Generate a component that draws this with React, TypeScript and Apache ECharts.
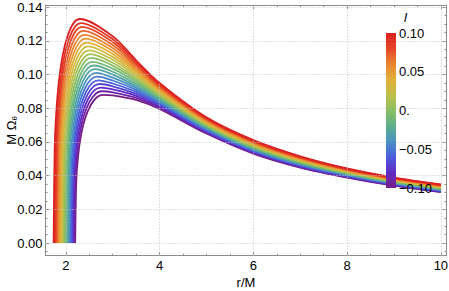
import React, { useEffect, useRef } from 'react';
import * as echarts from 'echarts';

// parameter l for each curve (purple -> red)
const L_VALUES = [-0.10, -0.09, -0.08, -0.07, -0.06, -0.05, -0.04, -0.03, -0.02, -0.01, 0, 0.01, 0.02, 0.03, 0.04, 0.05, 0.06, 0.07, 0.08, 0.09, 0.10];

// rising part of each curve (r/M values)
const R_HEAD = [
  [2.200, 2.224, 2.260, 2.320, 2.410, 2.530, 2.668, 2.800],
  [2.177, 2.201, 2.237, 2.297, 2.386, 2.506, 2.643, 2.775],
  [2.154, 2.178, 2.214, 2.273, 2.363, 2.482, 2.619, 2.750],
  [2.131, 2.155, 2.190, 2.250, 2.339, 2.458, 2.594, 2.725],
  [2.108, 2.132, 2.167, 2.226, 2.315, 2.434, 2.570, 2.700],
  [2.085, 2.109, 2.144, 2.203, 2.292, 2.410, 2.545, 2.675],
  [2.062, 2.086, 2.121, 2.180, 2.268, 2.385, 2.521, 2.650],
  [2.039, 2.062, 2.098, 2.156, 2.244, 2.361, 2.496, 2.625],
  [2.016, 2.039, 2.074, 2.133, 2.220, 2.337, 2.471, 2.600],
  [1.993, 2.016, 2.051, 2.109, 2.197, 2.313, 2.447, 2.575],
  [1.970, 1.993, 2.028, 2.086, 2.173, 2.289, 2.422, 2.550],
  [1.947, 1.970, 2.005, 2.063, 2.149, 2.265, 2.398, 2.525],
  [1.924, 1.947, 1.982, 2.039, 2.126, 2.241, 2.373, 2.500],
  [1.901, 1.924, 1.958, 2.016, 2.102, 2.217, 2.349, 2.475],
  [1.878, 1.901, 1.935, 1.992, 2.078, 2.193, 2.324, 2.450],
  [1.855, 1.878, 1.912, 1.969, 2.055, 2.169, 2.300, 2.425],
  [1.832, 1.855, 1.889, 1.946, 2.031, 2.144, 2.275, 2.400],
  [1.809, 1.832, 1.866, 1.922, 2.007, 2.120, 2.251, 2.375],
  [1.786, 1.809, 1.842, 1.899, 1.983, 2.096, 2.226, 2.350],
  [1.763, 1.786, 1.819, 1.875, 1.960, 2.072, 2.202, 2.325],
  [1.740, 1.762, 1.796, 1.852, 1.936, 2.048, 2.177, 2.300],
];
// rising part of each curve (M Omega values)
const V_HEAD = [
  [0, 0.0370, 0.0510, 0.0634, 0.0739, 0.0818, 0.0867, 0.0880],
  [0, 0.0379, 0.0523, 0.0649, 0.0757, 0.0838, 0.0888, 0.0901],
  [0, 0.0388, 0.0535, 0.0665, 0.0775, 0.0858, 0.0909, 0.0923],
  [0, 0.0396, 0.0548, 0.0680, 0.0793, 0.0878, 0.0930, 0.0944],
  [0, 0.0406, 0.0560, 0.0696, 0.0811, 0.0898, 0.0952, 0.0966],
  [0, 0.0415, 0.0573, 0.0711, 0.0830, 0.0919, 0.0973, 0.0988],
  [0, 0.0424, 0.0586, 0.0727, 0.0848, 0.0939, 0.0995, 0.1010],
  [0, 0.0433, 0.0599, 0.0743, 0.0867, 0.0960, 0.1017, 0.1032],
  [0, 0.0443, 0.0611, 0.0759, 0.0885, 0.0980, 0.1038, 0.1054],
  [0, 0.0452, 0.0624, 0.0775, 0.0904, 0.1001, 0.1060, 0.1076],
  [0, 0.0462, 0.0637, 0.0791, 0.0923, 0.1022, 0.1083, 0.1099],
  [0, 0.0471, 0.0650, 0.0807, 0.0942, 0.1043, 0.1104, 0.1121],
  [0, 0.0480, 0.0664, 0.0824, 0.0961, 0.1064, 0.1127, 0.1144],
  [0, 0.0490, 0.0677, 0.0840, 0.0980, 0.1085, 0.1149, 0.1167],
  [0, 0.0500, 0.0690, 0.0857, 0.1000, 0.1107, 0.1172, 0.1190],
  [0, 0.0509, 0.0704, 0.0873, 0.1019, 0.1128, 0.1195, 0.1213],
  [0, 0.0519, 0.0717, 0.0890, 0.1038, 0.1149, 0.1217, 0.1236],
  [0, 0.0529, 0.0730, 0.0906, 0.1058, 0.1171, 0.1240, 0.1259],
  [0, 0.0539, 0.0744, 0.0924, 0.1078, 0.1193, 0.1264, 0.1283],
  [0, 0.0549, 0.0757, 0.0940, 0.1097, 0.1215, 0.1286, 0.1306],
  [0, 0.0559, 0.0771, 0.0958, 0.1117, 0.1237, 0.1310, 0.1330],
];

// falling part, shared r/M grid
const R_TAIL = [3.0, 3.5, 4, 5, 6, 7, 8, 9, 10];
const V_TAIL = [
  [0.0877, 0.0850, 0.0796, 0.0650, 0.0531, 0.0448, 0.0389, 0.0341, 0.0303],
  [0.0895, 0.0862, 0.0804, 0.0655, 0.0535, 0.0451, 0.0392, 0.0343, 0.0305],
  [0.0912, 0.0874, 0.0811, 0.0660, 0.0539, 0.0455, 0.0394, 0.0346, 0.0308],
  [0.0930, 0.0885, 0.0819, 0.0664, 0.0543, 0.0458, 0.0397, 0.0348, 0.0310],
  [0.0947, 0.0897, 0.0827, 0.0669, 0.0547, 0.0461, 0.0400, 0.0351, 0.0312],
  [0.0965, 0.0909, 0.0835, 0.0674, 0.0551, 0.0464, 0.0403, 0.0353, 0.0314],
  [0.0982, 0.0921, 0.0842, 0.0679, 0.0555, 0.0468, 0.0405, 0.0355, 0.0317],
  [0.1000, 0.0932, 0.0850, 0.0684, 0.0559, 0.0471, 0.0408, 0.0358, 0.0319],
  [0.1017, 0.0944, 0.0858, 0.0688, 0.0563, 0.0475, 0.0411, 0.0360, 0.0321],
  [0.1035, 0.0956, 0.0865, 0.0693, 0.0567, 0.0478, 0.0413, 0.0363, 0.0323],
  [0.1053, 0.0968, 0.0873, 0.0698, 0.0571, 0.0482, 0.0416, 0.0365, 0.0326],
  [0.1070, 0.0979, 0.0881, 0.0703, 0.0575, 0.0485, 0.0419, 0.0367, 0.0328],
  [0.1088, 0.0991, 0.0888, 0.0708, 0.0579, 0.0488, 0.0421, 0.0370, 0.0330],
  [0.1105, 0.1003, 0.0896, 0.0712, 0.0583, 0.0492, 0.0424, 0.0372, 0.0332],
  [0.1123, 0.1015, 0.0904, 0.0717, 0.0587, 0.0495, 0.0427, 0.0375, 0.0335],
  [0.1140, 0.1026, 0.0912, 0.0722, 0.0591, 0.0498, 0.0430, 0.0377, 0.0337],
  [0.1158, 0.1038, 0.0919, 0.0727, 0.0595, 0.0502, 0.0432, 0.0379, 0.0339],
  [0.1175, 0.1050, 0.0927, 0.0732, 0.0599, 0.0505, 0.0435, 0.0382, 0.0341],
  [0.1193, 0.1062, 0.0935, 0.0736, 0.0603, 0.0508, 0.0438, 0.0384, 0.0344],
  [0.1210, 0.1073, 0.0942, 0.0741, 0.0607, 0.0512, 0.0440, 0.0387, 0.0346],
  [0.1228, 0.1085, 0.0950, 0.0746, 0.0611, 0.0515, 0.0443, 0.0389, 0.0348],
];

const X_TICKS = [2, 4, 6, 8, 10];
const X_MINOR = [2.5, 3, 3.5, 4.5, 5, 5.5, 6.5, 7, 7.5, 8.5, 9, 9.5];
const Y_TICKS = [0, 0.02, 0.04, 0.06, 0.08, 0.1, 0.12, 0.14];
const Y_MINOR = [-0.005, 0.005, 0.01, 0.015, 0.025, 0.03, 0.035, 0.045, 0.05, 0.055, 0.065, 0.07, 0.075, 0.085, 0.09, 0.095, 0.105, 0.11, 0.115, 0.125, 0.13, 0.135];
const X_GRID = [2, 4, 6, 8, 10];
const Y_GRID = [0, 0.02, 0.04, 0.06, 0.08, 0.1, 0.12, 0.14];
const CBAR_LABELS = ['0.10', '0.05', '0.', '\u22120.05', '\u22120.10'];

const X_MIN = 1.567;
const X_MAX = 10.12;
const Y_MIN = -0.0075;
const Y_MAX = 0.1413;

const RAINBOW = [
  [120, 28, 134],
  [97, 43, 196],
  [74, 94, 221],
  [73, 147, 196],
  [93, 175, 141],
  [137, 191, 100],
  [190, 192, 73],
  [226, 176, 59],
  [234, 133, 49],
  [228, 70, 38],
  [219, 33, 34],
];

function rainbow(t: number): string {
  const n = RAINBOW.length - 1;
  const p = Math.max(0, Math.min(1, t)) * n;
  const i = Math.min(n - 1, Math.floor(p));
  const f = p - i;
  const a = RAINBOW[i];
  const b = RAINBOW[i + 1];
  const c = a.map((v, k) => Math.round(v + (b[k] - v) * f));
  return `rgb(${c[0]},${c[1]},${c[2]})`;
}

const FONT = 'Liberation Sans, Arial, sans-serif';
const FRAME = '#8c8c8c';
const FS = 13;

export default function App() {
  const ref = useRef<HTMLDivElement>(null);
  useEffect(() => {
    document.body.style.margin = '0';
    const chart = echarts.init(ref.current!, undefined, { renderer: 'svg' });
    const lMin = L_VALUES[0];
    const lMax = L_VALUES[L_VALUES.length - 1];

    const curves = L_VALUES.map((l, i) => {
      const data: number[][] = [];
      R_HEAD[i].forEach((r, k) => data.push([r, V_HEAD[i][k]]));
      R_TAIL.forEach((r, k) => data.push([r, V_TAIL[i][k]]));
      const col = rainbow((l - lMin) / (lMax - lMin));
      return {
        type: 'line',
        name: 'l=' + l,
        data,
        showSymbol: false,
        smooth: 0.3,
        silent: true,
        z: 3,
        lineStyle: { width: 1.8, color: col },
        itemStyle: { color: col },
      };
    });

    const gridSeries = {
      type: 'line',
      data: [],
      z: 1,
      silent: true,
      markLine: {
        silent: true,
        symbol: ['none', 'none'],
        label: { show: false },
        lineStyle: { color: '#c4c4c4', type: [1, 2], width: 1 },
        data: [
          ...X_GRID.map((x) => ({ xAxis: x })),
          ...Y_GRID.map((y) => ({ yAxis: y })),
        ],
      },
    };

    const xBase = { type: 'value', min: X_MIN, max: X_MAX, splitLine: { show: false } };
    const yBase = { type: 'value', min: Y_MIN, max: Y_MAX, splitLine: { show: false } };

    const stops = RAINBOW.map((_, k) => ({ offset: k / (RAINBOW.length - 1), color: rainbow(1 - k / (RAINBOW.length - 1)) }));

    const cbTop = 33;
    const cbH = 155;
    const labelGraphics = CBAR_LABELS.map((s, k) => ({
      type: 'text',
      x: 399,
      y: cbTop + (cbH * k) / (CBAR_LABELS.length - 1),
      z: 101,
      style: { text: s, font: `${FS}px ${FONT}`, fill: '#000', textVerticalAlign: 'middle', verticalAlign: 'middle' },
    }));

    chart.setOption({
      animation: false,
      grid: { left: 45.5, right: 2.5, top: 5, bottom: 35.3, containLabel: false, outerBoundsMode: 'none' },
      xAxis: [
        {
          ...xBase,
          position: 'bottom',
          axisLine: { show: true, onZero: false, lineStyle: { color: FRAME } },
          axisTick: { show: true, inside: true, length: 4, customValues: X_TICKS, lineStyle: { color: FRAME } },
          axisLabel: { show: true, customValues: X_TICKS, color: '#000', fontSize: FS, fontFamily: FONT, margin: 3, formatter: (v: number) => String(Math.round(v)) },
          name: 'r/M',
          nameLocation: 'middle',
          nameGap: 20,
          nameMoveOverlap: false,
          nameTextStyle: { color: '#000', fontSize: FS, fontFamily: FONT },
        },
        {
          ...xBase,
          position: 'bottom',
          axisLine: { show: false, onZero: false },
          axisTick: { show: true, inside: true, length: 2, customValues: X_MINOR, lineStyle: { color: FRAME } },
          axisLabel: { show: false },
        },
        {
          ...xBase,
          position: 'top',
          axisLine: { show: true, onZero: false, lineStyle: { color: FRAME } },
          axisTick: { show: true, inside: true, length: 4, customValues: X_TICKS, lineStyle: { color: FRAME } },
          axisLabel: { show: false },
        },
        {
          ...xBase,
          position: 'top',
          axisLine: { show: false, onZero: false },
          axisTick: { show: true, inside: true, length: 2, customValues: X_MINOR, lineStyle: { color: FRAME } },
          axisLabel: { show: false },
        },
      ],
      yAxis: [
        {
          ...yBase,
          position: 'left',
          axisLine: { show: true, onZero: false, lineStyle: { color: FRAME } },
          axisTick: { show: true, inside: true, length: 4, customValues: Y_TICKS, lineStyle: { color: FRAME } },
          axisLabel: { show: true, customValues: Y_TICKS, color: '#000', fontSize: FS, fontFamily: FONT, margin: 3, formatter: (v: number) => v.toFixed(2) },
          name: '{m|M \u03a9}{s|\u03b8}',
          nameLocation: 'middle',
          nameRotate: 90,
          nameGap: 27,
          nameMoveOverlap: false,
          nameTextStyle: {
            rich: {
              m: { fontSize: FS, fontFamily: FONT, color: '#000', lineHeight: 15 },
              s: { fontSize: 8, fontFamily: FONT, color: '#000', lineHeight: 15, verticalAlign: 'bottom', padding: [5, 0, 0, 0] },
            },
          },
        },
        {
          ...yBase,
          position: 'left',
          axisLine: { show: false, onZero: false },
          axisTick: { show: true, inside: true, length: 2, customValues: Y_MINOR, lineStyle: { color: FRAME } },
          axisLabel: { show: false },
        },
        {
          ...yBase,
          position: 'right',
          axisLine: { show: true, onZero: false, lineStyle: { color: FRAME } },
          axisTick: { show: true, inside: true, length: 4, customValues: Y_TICKS, lineStyle: { color: FRAME } },
          axisLabel: { show: false },
        },
        {
          ...yBase,
          position: 'right',
          axisLine: { show: false, onZero: false },
          axisTick: { show: true, inside: true, length: 2, customValues: Y_MINOR, lineStyle: { color: FRAME } },
          axisLabel: { show: false },
        },
      ],
      series: [gridSeries, ...curves],
      graphic: [
        {
          type: 'rect',
          shape: { x: 386, y: cbTop, width: 10, height: cbH },
          z: 100,
          style: { fill: new echarts.graphic.LinearGradient(0, 0, 0, 1, stops) },
        },
        ...labelGraphics,
        {
          type: 'text',
          x: 404,
          y: 17,
          z: 101,
          style: { text: 'l', font: `italic ${FS}px ${FONT}`, fill: '#000', textVerticalAlign: 'middle', verticalAlign: 'middle' },
        },
      ],
    });
    return () => chart.dispose();
  }, []);
  return <div ref={ref} style={{ width: 449, height: 291 }} />;
}
